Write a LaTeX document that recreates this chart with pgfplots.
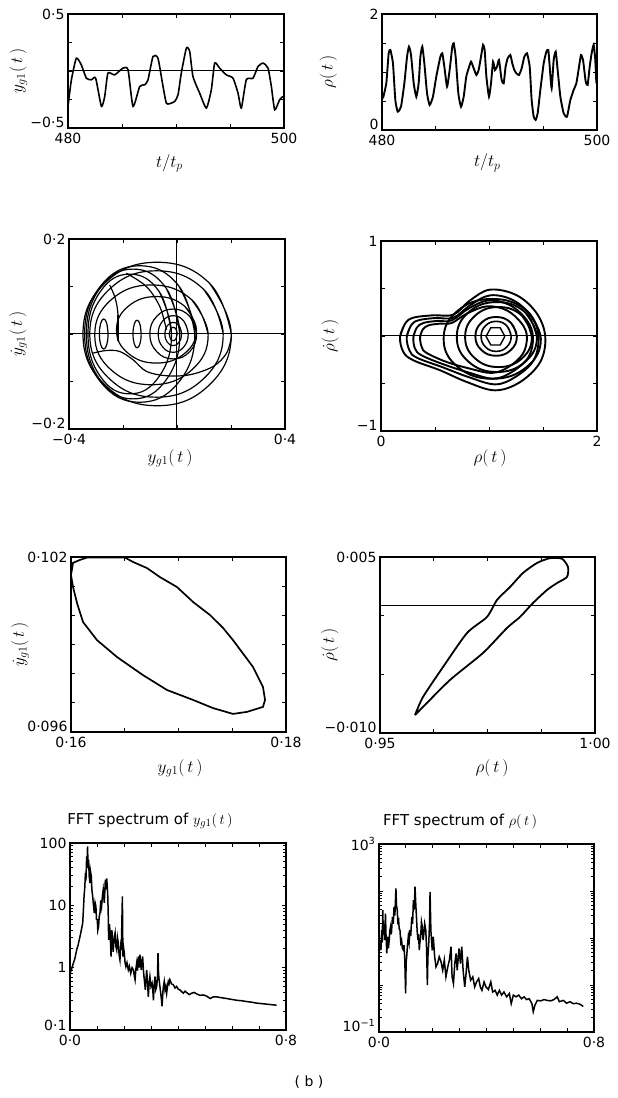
\documentclass[border=0pt]{standalone}
\usepackage{pgfplots}
\pgfplotsset{compat=1.18}
\usepackage{fontspec}
\setmainfont{DejaVu Sans}

\newcommand\tfont{\fontsize{14}{16}\selectfont}
\newcommand\lfont{\fontsize{17}{19}\selectfont}
\newcommand\hfont{\fontsize{15}{17}\selectfont}

\pgfplotsset{
  panel/.style={
    scale only axis,
    axis line style={line width=1.3pt},
    every tick/.style={black, line width=0.9pt},
    major tick length=4pt,
    minor tick length=2.5pt,
    tick label style={font=\tfont},
    xticklabel style={yshift=-2pt},
    label style={font=\lfont},
    title style={font=\hfont},
    scaled ticks=false,
    clip=true,
  },
  trace/.style={black, line width=1.6pt, mark=none},
  loop/.style={black, line width=1.2pt, mark=none, smooth, tension=0.75},
  zline/.style={black, line width=1.0pt, mark=none},
}

\begin{document}
\begin{tikzpicture}
\path[use as bounding box] (0pt,0pt) rectangle (618pt,1098pt);

% ---------- time series of y_g1 ----------
\begin{axis}[panel, at={(68pt,970pt)}, anchor=south west, width=216pt, height=114pt,
  xmin=480, xmax=500, ymin=-0.5, ymax=0.5,
  xtick={480,485,490,495,500}, xticklabels={480,,,,500},
  ytick={-0.5,-0.25,0,0.25,0.5}, yticklabels={\smash{−0·5},,,,0·5},
  xlabel={$t/t_p$}, ylabel={$y_{g1}(\,t\,)$},
  xlabel style={at={(axis description cs:0.47,-0.31)}, anchor=center},
  ylabel style={at={(axis description cs:-0.23,0.5)}, anchor=center}]
\addplot[zline] coordinates {(480,0) (500,0)};
\addplot[trace, smooth, tension=0.35] coordinates {
(480,-0.31)(480.31,-0.08)(480.77,0.112)(481.23,0.054)(481.70,-0.063)(482.16,-0.077)
(482.56,-0.063)(483.09,-0.31)(483.40,-0.223)(483.70,-0.019)(484.32,-0.034)(485.09,0.025)
(485.56,0.010)(486.02,-0.31)(486.64,-0.136)(487.10,-0.121)(487.41,-0.077)(487.87,0.127)
(488.33,0.112)(488.80,-0.136)(489.10,-0.281)(489.41,-0.287)(489.88,-0.267)(490.19,-0.208)
(490.49,-0.019)(490.96,0.200)(491.27,0.171)(491.57,-0.048)(492.19,-0.194)(492.81,-0.325)
(493.27,-0.165)(493.58,0.069)(494.04,0.025)(494.66,-0.034)(495.28,-0.063)(495.74,-0.194)
(496.05,-0.325)(496.51,-0.077)(497.13,-0.063)(497.59,0.039)(498.06,0.069)(498.52,0.025)
(498.83,-0.136)(499.14,-0.340)(499.60,-0.252)(499.91,-0.223)};
\end{axis}

% ---------- time series of rho ----------
\begin{axis}[panel, at={(382pt,968pt)}, anchor=south west, width=215pt, height=116pt,
  xmin=480, xmax=500, ymin=0, ymax=2,
  xtick={480,485,490,495,500}, xticklabels={480,,,,500},
  ytick={0,0.5,1,1.5,2}, yticklabels={\smash{0},,,,2},
  xlabel={$t/t_p$}, ylabel={$\rho(\,t\,)$},
  xlabel style={at={(axis description cs:0.49,-0.284)}, anchor=center},
  ylabel style={at={(axis description cs:-0.25,0.5)}, anchor=center}]
\addplot[trace, line width=1.9pt, smooth, tension=0.3] coordinates {
(480.09,0.546)(480.40,0.805)(480.62,1.322)(480.78,1.379)(481.02,1.149)(481.24,0.517)
(481.46,0.316)(481.77,0.402)(482.08,0.805)(482.33,1.264)(482.51,1.437)(482.70,1.293)
(482.95,0.805)(483.19,0.575)(483.41,0.805)(483.57,1.264)(483.75,1.437)(483.94,1.149)
(484.19,0.632)(484.43,0.431)(484.74,0.575)(485.05,0.920)(485.43,1.264)(485.61,1.322)
(485.80,1.092)(486.05,0.747)(486.29,1.034)(486.54,1.437)(486.67,1.494)(486.85,1.264)
(487.10,0.632)(487.35,0.402)(487.60,0.575)(487.84,0.920)(488.06,1.063)(488.28,1.178)
(488.53,1.063)(488.78,0.948)(488.99,1.034)(489.21,1.264)(489.40,1.466)(489.55,1.379)
(489.71,0.920)(489.95,0.575)(490.14,0.805)(490.33,1.178)(490.51,1.034)(490.70,1.092)
(490.88,1.207)(491.13,0.862)(491.32,0.805)(491.50,1.092)(491.69,1.236)(491.94,1.293)
(492.12,1.149)(492.31,1.034)(492.50,0.977)(492.74,0.948)(492.99,1.063)(493.24,1.264)
(493.49,1.322)(493.74,1.092)(493.92,0.517)(494.11,0.230)(494.29,0.172)(494.48,0.287)
(494.73,0.690)(495.04,1.149)(495.29,1.351)(495.47,1.379)(495.60,1.092)(495.78,0.718)
(495.97,1.207)(496.16,1.351)(496.34,1.034)(496.59,0.575)(496.90,0.287)(497.21,0.230)
(497.52,0.517)(497.83,0.690)(498.08,0.805)(498.33,1.092)(498.51,1.293)(498.70,1.207)
(498.95,0.833)(499.13,0.776)(499.32,1.092)(499.50,1.322)(499.69,1.466)(499.84,1.207)
(499.94,0.805)};
\end{axis}

% ---------- phase plane of y_g1 ----------
\begin{axis}[panel, at={(69pt,669pt)}, anchor=south west, width=216pt, height=190pt,
  xmin=-0.4, xmax=0.4, ymin=-0.2, ymax=0.2,
  xtick={-0.4,-0.2,0,0.2,0.4}, xticklabels={−0·4,,,,0·4},
  ytick={-0.2,-0.1,0,0.1,0.2}, yticklabels={\smash{−0·2},,,,0·2},
  xlabel={$y_{g1}(\,t\,)$}, ylabel={$\dot y_{g1}(\,t\,)$},
  xlabel style={at={(axis description cs:0.468,-0.153)}, anchor=center},
  ylabel style={at={(axis description cs:-0.236,0.5)}, anchor=center}]
\addplot[zline] coordinates {(-0.4,0) (0.4,0)};
\addplot[zline] coordinates {(0,-0.2) (0,0.2)};
\addplot[loop] coordinates {(0.0008,0)(-0.0035,0.0099)(-0.014,0.014)(-0.0245,0.0099)(-0.0288,0)(-0.0245,-0.0099)(-0.014,-0.014)(-0.0035,-0.0099)(0.0008,0)(-0.0035,0.0099)};
\addplot[loop] coordinates {(0.017,0)(0.0079,0.0173)(-0.014,0.0245)(-0.0359,0.0173)(-0.045,0)(-0.0359,-0.0173)(-0.014,-0.0245)(0.0079,-0.0173)(0.017,0)(0.0079,0.0173)};
\addplot[loop] coordinates {(0.0416,0)(0.0253,0.0272)(-0.014,0.0385)(-0.0533,0.0272)(-0.0696,0)(-0.0533,-0.0272)(-0.014,-0.0385)(0.0253,-0.0272)(0.0416,0)(0.0253,0.0272)};
\addplot[loop] coordinates {(0.0726,0)(0.0472,0.0371)(-0.014,0.0525)(-0.0752,0.0371)(-0.1006,0)(-0.0752,-0.0371)(-0.014,-0.0525)(0.0472,-0.0371)(0.0726,0)(0.0472,0.0371)};
\addplot[loop] coordinates {(0.072,0.0088)(0.0286,0.0583)(-0.076,0.0788)(-0.1806,0.0583)(-0.224,0.0088)(-0.1806,-0.0407)(-0.076,-0.0612)(0.0286,-0.0407)(0.072,0.0088)(0.0286,0.0583)};
\addplot[loop] coordinates {(0.1154,-0.0018)(0.0539,0.0724)(-0.0946,0.1032)(-0.2431,0.0724)(-0.3046,-0.0018)(-0.2431,-0.076)(-0.0946,-0.1068)(0.0539,-0.076)(0.1154,-0.0018)(0.0539,0.0724)};
\addplot[loop] coordinates {(0.171,0)(0.0987,0.094)(-0.076,0.133)(-0.2507,0.094)(-0.323,0)(-0.2507,-0.094)(-0.076,-0.133)(0.0987,-0.094)(0.171,0)(0.0987,0.094)};
\addplot[loop] coordinates {(0.2009,0)(0.1205,0.1068)(-0.0736,0.151)(-0.2677,0.1068)(-0.3481,0)(-0.2677,-0.1068)(-0.0736,-0.151)(0.1205,-0.1068)(0.2009,0)(0.1205,0.1068)};
\addplot[loop] coordinates {(0.066,0)(0.0062,0.1015)(-0.138,0.1436)(-0.2822,0.1015)(-0.342,0)(-0.2822,-0.1015)(-0.138,-0.1436)(0.0062,-0.1015)(0.066,0)(0.0062,0.1015)};
\addplot[loop] coordinates {(0.0104,0)(-0.0403,0.0966)(-0.1626,0.1366)(-0.2849,0.0966)(-0.3356,0)(-0.2849,-0.0966)(-0.1626,-0.1366)(-0.0403,-0.0966)(0.0104,0)(-0.0403,0.0966)};
\addplot[loop] coordinates {(-0.0204,0)(-0.0657,0.0891)(-0.175,0.126)(-0.2843,0.0891)(-0.3296,0)(-0.2843,-0.0891)(-0.175,-0.126)(-0.0657,-0.0891)(-0.0204,0)(-0.0657,0.0891)};
\addplot[loop] coordinates {(-0.2554,0)(-0.2601,0.0223)(-0.2714,0.0315)(-0.2827,0.0223)(-0.2874,0)(-0.2827,-0.0223)(-0.2714,-0.0315)(-0.2601,-0.0223)(-0.2554,0)(-0.2601,0.0223)};
\addplot[loop] coordinates {(-0.1328,0)(-0.1372,0.0205)(-0.1478,0.029)(-0.1584,0.0205)(-0.1628,0)(-0.1584,-0.0205)(-0.1478,-0.029)(-0.1372,-0.0205)(-0.1328,0)(-0.1372,0.0205)};
\addplot[loop, tension=0.55] coordinates {(-0.249,0.103)(-0.2306,0.0788)(-0.222,0.0578)(-0.2183,0.040)};
\addplot[trace, line width=2.4pt] coordinates {(-0.2183,0.040)(-0.2183,-0.0158)};
\addplot[loop, tension=0.55] coordinates {(-0.311,-0.0403)(-0.2615,-0.0347)(-0.2121,-0.0368)(-0.1626,-0.0543)(-0.1131,-0.0788)(-0.039,-0.0879)(0.0476,-0.0858)(0.1342,-0.0683)(0.1836,-0.0403)(0.2021,-0.0053)};
\addplot[loop, tension=0.55] coordinates {(-0.1873,0.1279)(-0.1131,0.0998)(-0.0637,0.0578)(-0.039,0.0088)};
\end{axis}

% ---------- phase plane of rho ----------
\begin{axis}[panel, at={(381pt,667pt)}, anchor=south west, width=216pt, height=190pt,
  xmin=0, xmax=2, ymin=-1, ymax=1,
  xtick={0,0.5,1,1.5,2}, xticklabels={0,,,,2},
  ytick={-1,-0.5,0,0.5,1}, yticklabels={\smash{−1},,,,1},
  xlabel={$\rho(\,t\,)$}, ylabel={$\dot\rho(\,t\,)$},
  xlabel style={at={(axis description cs:0.505,-0.142)}, anchor=center},
  ylabel style={at={(axis description cs:-0.236,0.5)}, anchor=center}]
\addplot[zline] coordinates {(0,0) (2,0)};
\addplot[loop, line width=1.9pt, tension=0.6] coordinates {(0.176,-0.011)(0.223,0.130)(0.300,0.193)(0.485,0.218)(0.671,0.225)(0.825,0.375)(1.011,0.488)(1.258,0.428)(1.444,0.235)(1.521,-0.011)(1.474,-0.274)(1.289,-0.484)(1.057,-0.572)(0.794,-0.484)(0.547,-0.361)(0.300,-0.256)(0.207,-0.168)(0.176,-0.011)(0.223,0.130)};
\addplot[loop, line width=1.9pt, tension=0.6] coordinates {(0.238,-0.011)(0.278,0.112)(0.346,0.165)(0.501,0.189)(0.671,0.193)(0.825,0.323)(1.011,0.428)(1.227,0.375)(1.397,0.200)(1.459,-0.011)(1.413,-0.256)(1.243,-0.432)(1.057,-0.509)(0.810,-0.432)(0.563,-0.326)(0.331,-0.228)(0.263,-0.151)(0.238,-0.011)(0.278,0.112)};
\addplot[loop, line width=1.9pt, tension=0.6] coordinates {(0.300,-0.011)(0.331,0.088)(0.393,0.137)(0.516,0.158)(0.655,0.165)(0.810,0.288)(0.995,0.375)(1.196,0.323)(1.351,0.165)(1.407,-0.011)(1.366,-0.221)(1.212,-0.379)(1.042,-0.449)(0.825,-0.389)(0.578,-0.298)(0.377,-0.204)(0.315,-0.133)(0.300,-0.011)(0.331,0.088)};
\addplot[loop, line width=1.9pt, tension=0.6] coordinates {(0.362,-0.011)(0.386,0.067)(0.439,0.112)(0.547,0.130)(0.655,0.137)(0.794,0.235)(0.980,0.312)(1.165,0.270)(1.304,0.130)(1.351,-0.011)(1.314,-0.186)(1.181,-0.326)(1.026,-0.389)(0.825,-0.344)(0.609,-0.274)(0.423,-0.179)(0.377,-0.116)(0.362,-0.011)(0.386,0.067)};
\addplot[loop, line width=1.9pt] coordinates {(1.48,-0.03)(1.3482,0.267)(1.03,0.39)(0.7118,0.267)(0.58,-0.03)(0.7118,-0.327)(1.03,-0.45)(1.3482,-0.327)(1.48,-0.03)(1.3482,0.267)};
\addplot[loop, line width=1.9pt] coordinates {(1.444,-0.011)(1.3353,0.2492)(1.073,0.357)(0.8107,0.2492)(0.702,-0.011)(0.8107,-0.2712)(1.073,-0.379)(1.3353,-0.2712)(1.444,-0.011)(1.3353,0.2492)};
\addplot[loop, line width=1.9pt] coordinates {(1.397,-0.011)(1.3065,0.2124)(1.088,0.305)(0.8695,0.2124)(0.779,-0.011)(0.8695,-0.2344)(1.088,-0.327)(1.3065,-0.2344)(1.397,-0.011)(1.3065,0.2124)};
\addplot[loop, line width=1.9pt] coordinates {(1.258,-0.004)(1.2018,0.1402)(1.066,0.2)(0.9302,0.1402)(0.874,-0.004)(0.9302,-0.1482)(1.066,-0.208)(1.2018,-0.1482)(1.258,-0.004)(1.2018,0.1402)};
\addplot[loop, line width=1.6pt] coordinates {(1.205,-0.004)(1.1643,0.1077)(1.066,0.154)(0.9677,0.1077)(0.927,-0.004)(0.9677,-0.1157)(1.066,-0.162)(1.1643,-0.1157)(1.205,-0.004)(1.1643,0.1077)};
\addplot[trace, line width=1.4pt] coordinates {(1.147,-0.004)(1.1035,0.087)(1.0165,0.087)(0.973,-0.004)(1.0165,-0.095)(1.1035,-0.095)(1.147,-0.004)};
\end{axis}

% ---------- limit cycle, y_g1 ----------
\begin{axis}[panel, at={(71pt,366pt)}, anchor=south west, width=215pt, height=175pt,
  xmin=0.16, xmax=0.18, ymin=0.096, ymax=0.102,
  xtick={0.16,0.165,0.17,0.175,0.18}, xticklabels={0·16,,,,0·18},
  ytick={0.096,0.097,0.098,0.099,0.100,0.101,0.102}, yticklabels={\smash{0·096},,,,,,0·102},
  xlabel={$y_{g1}(\,t\,)$}, ylabel={$\dot y_{g1}(\,t\,)$},
  xlabel style={at={(axis description cs:0.507,-0.206)}, anchor=center},
  ylabel style={at={(axis description cs:-0.237,0.5)}, anchor=center}]
\addplot[trace, line width=1.7pt] coordinates {
(0.16000,0.10138)(0.16019,0.10180)(0.16084,0.10190)(0.16149,0.10198)(0.16502,0.10198)
(0.16577,0.10183)(0.16707,0.10162)(0.16828,0.10131)(0.16986,0.10097)(0.17135,0.10046)
(0.17293,0.10001)(0.17414,0.09957)(0.17507,0.09915)(0.17693,0.09823)(0.17786,0.09754)
(0.17805,0.09710)(0.17786,0.09686)(0.17637,0.09669)(0.17507,0.09662)(0.17321,0.09682)
(0.17135,0.09710)(0.16893,0.09744)(0.16670,0.09795)(0.16428,0.09857)(0.16242,0.09915)
(0.16112,0.09977)(0.16056,0.10042)(0.16019,0.10097)(0.16000,0.10138)};
\end{axis}

% ---------- limit cycle, rho ----------
\begin{axis}[panel, at={(380pt,365pt)}, anchor=south west, width=215pt, height=176pt,
  xmin=0.95, xmax=1.00, ymin=-0.010, ymax=0.005,
  xtick={0.95,0.9625,0.975,0.9875,1.0}, xticklabels={0·95,,,,1·00},
  ytick={-0.010,-0.005,0,0.005}, yticklabels={\smash{−0·010},,,0·005},
  xlabel={$\rho(\,t\,)$}, ylabel={$\dot\rho(\,t\,)$},
  xlabel style={at={(axis description cs:0.521,-0.2)}, anchor=center},
  ylabel style={at={(axis description cs:-0.233,0.5)}, anchor=center}]
\addplot[zline] coordinates {(0.95,0.0009) (1.0,0.0009)};
\addplot[trace, line width=1.8pt, smooth, tension=0.4] coordinates {
(0.95814,-0.00847)(0.96000,-0.00693)(0.96465,-0.00438)(0.97023,-0.00148)(0.97488,-0.00011)
(0.97721,0.00134)(0.98023,0.00244)(0.98326,0.00364)(0.98651,0.00449)(0.98953,0.00490)
(0.99233,0.00485)(0.99372,0.00415)(0.99349,0.00330)(0.99116,0.00278)(0.98884,0.00219)
(0.98558,0.00108)(0.98256,-0.00011)(0.97953,-0.00105)(0.97395,-0.00318)(0.96628,-0.00548)
(0.96000,-0.00778)(0.95814,-0.00847)};
\end{axis}

% ---------- spectrum of y_g1 ----------
\begin{axis}[panel, at={(70pt,68pt)}, anchor=south west, width=216pt, height=187pt,
  xmin=0, xmax=0.8, ymode=log, ymin=0.1, ymax=100,
  xtick={0,0.1,0.2,0.3,0.4,0.5,0.6,0.7,0.8}, xticklabels={0·0,,,,,,,,0·8},
  ytick={0.1,1,10,100}, yticklabels={\smash{0·1},1,10,100},
  title={FFT spectrum of $y_{g1}(\,t\,)$},
  title style={at={(axis description cs:0.37,1.085)}, anchor=center}]
\addplot[trace, line width=1.5pt] coordinates {
(0,0.81)(0.006,0.95)(0.0123,1.18)(0.018,1.4)(0.0247,1.93)(0.030,2.3)(0.037,3.16)(0.042,4.0)
(0.047,5.2)(0.050,9)(0.052,13.9)(0.055,20)(0.057,33)(0.059,25)(0.0617,61)(0.063,45)(0.065,88)
(0.067,40)(0.069,54)(0.071,30)(0.074,22.8)(0.076,35)(0.079,29)(0.081,18)(0.084,13.9)(0.087,10)
(0.090,7.5)(0.093,11)(0.096,9.6)(0.098,6)(0.101,5.9)(0.103,4)(0.106,4.6)(0.108,6.5)(0.111,7.5)
(0.114,12)(0.117,9.6)(0.120,14)(0.123,17.8)(0.127,11)(0.131,25.8)(0.133,18)(0.136,27)(0.138,20)
(0.140,13.9)(0.142,6)(0.143,2.8)(0.146,5)(0.148,4.0)(0.150,2.6)(0.152,1.51)(0.155,4)(0.157,3.16)
(0.160,1.8)(0.162,2.47)(0.165,3.2)(0.167,3.6)(0.170,2.2)(0.173,1.93)(0.176,3.0)(0.179,2.47)
(0.182,1.6)(0.185,1.33)(0.188,2.2)(0.190,1.93)(0.194,13.9)(0.196,1.51)(0.199,2.0)(0.201,1.71)
(0.204,1.2)(0.207,1.04)(0.211,1.2)(0.216,0.92)(0.220,1.05)(0.225,0.81)(0.230,1.0)(0.235,0.92)
(0.238,0.75)(0.241,0.64)(0.244,0.95)(0.247,1.18)(0.250,0.9)(0.253,1.51)(0.256,1.0)(0.259,1.61)
(0.262,1.1)(0.264,0.92)(0.267,1.3)(0.269,1.51)(0.272,0.9)(0.274,0.72)(0.277,0.55)(0.279,0.44)
(0.282,0.7)(0.284,0.92)(0.287,0.6)(0.290,0.34)(0.293,0.55)(0.296,0.72)(0.300,0.5)(0.304,0.56)
(0.307,0.42)(0.309,0.30)(0.312,0.55)(0.315,0.72)(0.318,0.45)(0.321,0.50)(0.324,0.7)(0.326,1.71)
(0.328,0.8)(0.330,0.64)(0.333,0.5)(0.336,0.39)(0.339,0.3)(0.341,0.24)(0.344,0.4)(0.346,0.50)
(0.349,0.6)(0.352,0.44)(0.355,0.5)(0.358,0.39)(0.361,0.5)(0.364,0.60)(0.367,0.55)(0.370,0.64)
(0.376,0.55)(0.383,0.53)(0.389,0.47)(0.395,0.50)(0.401,0.45)(0.407,0.44)(0.414,0.41)(0.420,0.39)
(0.426,0.42)(0.432,0.40)(0.441,0.37)(0.451,0.39)(0.460,0.40)(0.469,0.38)(0.481,0.36)(0.494,0.365)
(0.506,0.35)(0.519,0.32)(0.531,0.34)(0.543,0.34)(0.560,0.33)(0.580,0.32)(0.598,0.31)(0.617,0.30)
(0.635,0.295)(0.654,0.286)(0.672,0.28)(0.691,0.27)(0.710,0.265)(0.728,0.26)(0.746,0.255)(0.765,0.25)};
\end{axis}

% ---------- spectrum of rho ----------
\begin{axis}[panel, at={(379pt,66pt)}, anchor=south west, width=215pt, height=188pt,
  xmin=0, xmax=0.8, ymode=log, ymin=0.1, ymax=1000,
  xtick={0,0.1,0.2,0.3,0.4,0.5,0.6,0.7,0.8}, xticklabels={0·0,,,,,,,,0·8},
  ytick={0.1,1,10,100,1000}, yticklabels={\smash{10\textsuperscript{−1}},,,,10\textsuperscript{3}},
  title={FFT spectrum of $\rho(\,t\,)$},
  title style={at={(axis description cs:0.377,1.085)}, anchor=center}]
\addplot[trace, line width=1.5pt] coordinates {
(0.004,9.0)(0.007,5.5)(0.010,14.7)(0.012,8)(0.014,39)(0.016,12)(0.019,20)(0.021,9)(0.024,33)
(0.026,12)(0.029,4.7)(0.031,8)(0.033,10.6)(0.035,6)(0.038,9.0)(0.040,14)(0.043,17.3)(0.046,12)
(0.050,28)(0.053,20)(0.056,46)(0.059,30)(0.063,113)(0.065,50)(0.068,39)(0.070,22)(0.073,24)
(0.075,16)(0.078,14.7)(0.081,8)(0.084,9.0)(0.087,6)(0.091,5.5)(0.093,7)(0.096,3.4)(0.099,0.66)
(0.101,3)(0.103,4.0)(0.106,7)(0.109,10.6)(0.112,8)(0.115,14.7)(0.118,11)(0.122,28)(0.125,20)
(0.128,64)(0.131,40)(0.134,123)(0.137,50)(0.140,24)(0.142,14)(0.145,9)(0.147,12)(0.150,5.5)
(0.152,8)(0.155,10.6)(0.158,22)(0.161,17.3)(0.164,9)(0.167,12.5)(0.170,20)(0.174,14.7)(0.177,6)
(0.180,0.99)(0.182,4)(0.185,7.6)(0.188,20)(0.190,96)(0.193,14.7)(0.196,8)(0.198,5.5)(0.200,8)
(0.202,10.6)(0.205,6)(0.207,4.0)(0.210,3)(0.212,2.43)
(0.218,2.86)(0.224,4.0)(0.231,3.1)(0.237,2.06)(0.243,3.4)(0.249,1.49)(0.256,2.43)(0.262,3.4)
(0.268,6.5)(0.272,1.49)(0.277,1.07)(0.282,2.86)(0.287,4.7)(0.291,2.06)(0.298,6.0)(0.303,2.86)
(0.308,6.5)(0.313,2.06)(0.319,0.91)(0.324,1.75)(0.329,4.0)(0.334,2.06)(0.341,1.26)(0.349,1.49)
(0.356,0.91)(0.363,1.16)(0.371,1.37)(0.377,0.91)(0.383,0.77)(0.391,1.16)(0.398,0.91)(0.407,0.80)
(0.416,1.16)(0.423,0.71)(0.432,0.77)(0.440,0.61)(0.448,0.77)(0.456,0.61)(0.465,0.71)(0.475,0.56)
(0.485,0.66)(0.492,0.40)(0.500,0.61)(0.510,0.56)(0.520,0.61)(0.530,0.51)(0.540,0.56)(0.549,0.49)
(0.559,0.51)(0.569,0.40)(0.574,0.27)(0.580,0.37)(0.589,0.47)(0.602,0.46)(0.614,0.49)(0.626,0.47)
(0.639,0.46)(0.651,0.49)(0.663,0.56)(0.671,0.44)(0.686,0.47)(0.698,0.41)(0.711,0.44)(0.723,0.40)
(0.735,0.41)(0.748,0.39)(0.760,0.35)};
\end{axis}

\node[font=\tfont] at (309pt,16pt) {( b )};
\end{tikzpicture}
\end{document}
